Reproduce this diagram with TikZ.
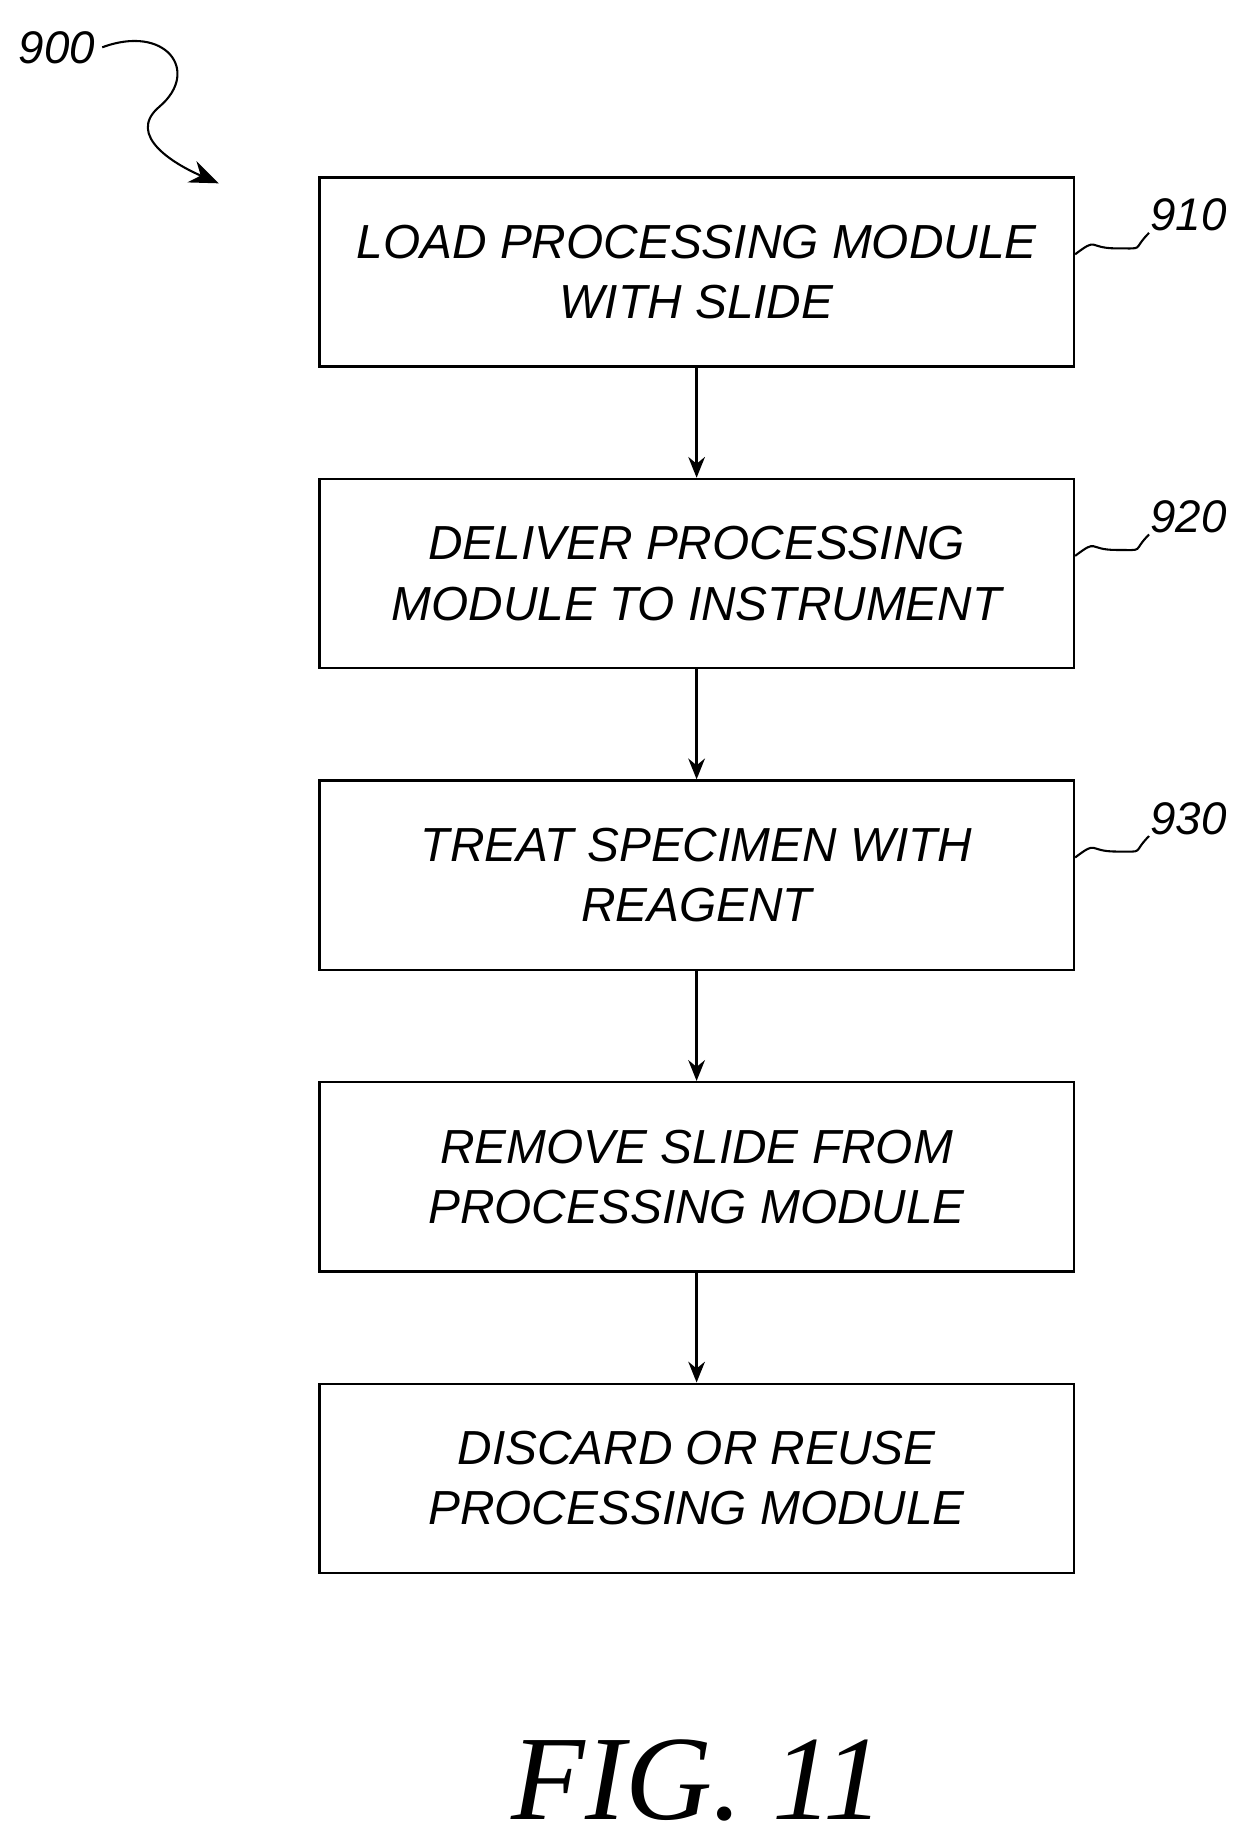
\documentclass[tikz,border=0pt]{standalone}
\usepackage{fontspec}
\setmainfont{Liberation Sans}
\newfontfamily\figfont{Liberation Serif}
\usetikzlibrary{arrows.meta}
\begin{document}
\begin{tikzpicture}[x=0.02cm,y=-0.02cm,
  box/.style={draw,line width=1.2pt,minimum width=638*0.02cm,minimum height=160*0.02cm,align=center,font=\fontsize{23}{29}\selectfont\itshape},
  arr/.style={line width=1.2pt,-{Stealth[length=10pt,width=8pt]}},
  lab/.style={font=\fontsize{22}{26}\selectfont\itshape},
  sq/.style={line width=1pt}]
\useasboundingbox (0,0) rectangle (1050,1560);
\node[box] (b1) at (589,230) {LOAD PROCESSING MODULE\\WITH SLIDE};
\node[box] (b2) at (589,485) {DELIVER PROCESSING\\MODULE TO INSTRUMENT};
\node[box] (b3) at (589,740) {TREAT SPECIMEN WITH\\REAGENT};
\node[box] (b4) at (589,995) {REMOVE SLIDE FROM\\PROCESSING MODULE};
\node[box] (b5) at (589,1250) {DISCARD OR REUSE\\PROCESSING MODULE};
\foreach \a/\b in {b1/b2,b2/b3,b3/b4,b4/b5} \draw[arr] (\a.south) -- (\b.north);
\node[lab] (l910) at (1005,182) {910};
\node[lab] (l920) at (1005,437) {920};
\node[lab] (l930) at (1005,692) {930};
\foreach \b/\l in {b1/l910,b2/l920,b3/l930}
  \draw[sq] ([yshift=0.3cm]\b.east) .. controls +(20,-15) and +(-25,0) .. +(35,-5) .. controls +(25,0) and +(-15,15) .. ([xshift=0.1cm,yshift=0.1cm]\l.south west);
\node[lab] (l900) at (48,40) {900};
\coordinate (t900) at (185,155);
\draw[sq,-{Stealth[length=14pt,width=11pt]}] (l900.east) .. controls (140,20) and (170,60) .. (135,90) .. controls (105,115) and (150,140) .. (t900);
\node[font=\fontsize{58}{66}\selectfont\itshape\figfont] (fig) at (590,1505) {FIG. 11};
\end{tikzpicture}
\end{document}
